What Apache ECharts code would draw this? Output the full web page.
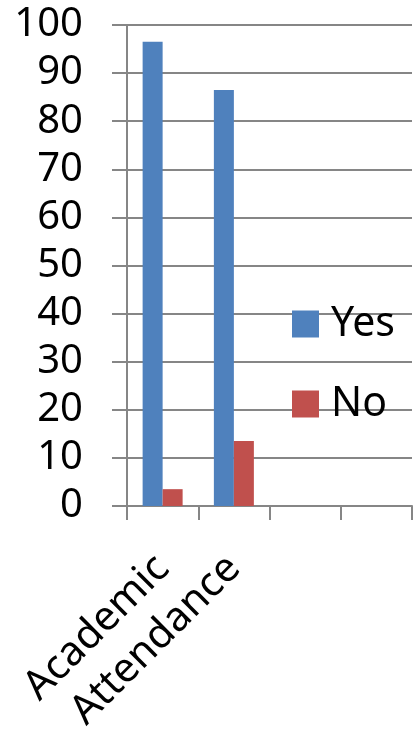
<!DOCTYPE html>
<html>
<head>
<meta charset="utf-8">
<script src="https://cdn.jsdelivr.net/npm/echarts@6/dist/echarts.min.js"></script>
<style>
  html, body { margin: 0; padding: 0; background: #fff; }
  #chart { width: 413px; height: 730px; }
</style>
</head>
<body>
<div id="chart"></div>
<script>
// Survey answers per item (percent)
const categories = ['Academic', 'Attendance', '', ''];
const yesValues = [96.5, 86.5, null, null];
const noValues = [3.5, 13.5, null, null];
const yTicks = { min: 0, max: 100, interval: 10 };

const axisGray = '#868686';
const fontFamily = '"Noto Sans", "Open Sans", sans-serif';

const chart = echarts.init(document.getElementById('chart'), null, { renderer: 'canvas' });
chart.setOption({
  animation: false,
  textStyle: { fontFamily: fontFamily },
  grid: { left: 127, right: 1, top: 25, bottom: 224, containLabel: false, outerBoundsMode: 'none' },
  legend: {
    orient: 'vertical',
    left: 292,
    top: 303,
    padding: 0,
    itemWidth: 27,
    itemHeight: 27,
    itemGap: 38,
    icon: 'rect',
    textStyle: { fontSize: 41, color: '#000', lineHeight: 42, padding: [0, 0, 0, 7], fontFamily: fontFamily },
    data: ['Yes', 'No']
  },
  xAxis: {
    type: 'category',
    data: categories,
    boundaryGap: true,
    axisLine: { show: true, lineStyle: { color: axisGray, width: 2 } },
    axisTick: { show: true, length: 14, lineStyle: { color: axisGray, width: 2 } },
    axisLabel: {
      interval: 0,
      rotate: 45,
      fontSize: 41,
      color: '#000',
      margin: 56,
      fontFamily: fontFamily
    },
    splitLine: { show: false }
  },
  yAxis: {
    type: 'value',
    min: yTicks.min,
    max: yTicks.max,
    interval: yTicks.interval,
    axisLine: { show: true, lineStyle: { color: axisGray, width: 2 } },
    axisTick: { show: true, length: 15, lineStyle: { color: axisGray, width: 2 } },
    axisLabel: { fontSize: 40, color: '#000', margin: 44, fontFamily: fontFamily },
    splitLine: { show: true, lineStyle: { color: axisGray, width: 2 } }
  },
  series: [
    {
      name: 'Yes',
      type: 'bar',
      data: yesValues,
      barWidth: 20,
      barGap: '0%',
      itemStyle: { color: '#4F81BD' }
    },
    {
      name: 'No',
      type: 'bar',
      data: noValues,
      barWidth: 20,
      barGap: '0%',
      itemStyle: { color: '#C0504D' }
    }
  ]
});
</script>
</body>
</html>
